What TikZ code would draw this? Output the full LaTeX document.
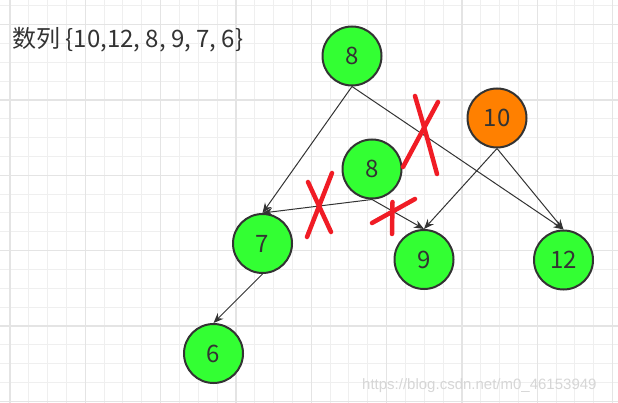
\documentclass[tikz,border=0pt]{standalone}
\usepackage{fontspec}
\setmainfont{Noto Sans CJK SC}
\newfontfamily\markfont{Liberation Sans}
\usetikzlibrary{arrows.meta}
\definecolor{nodegreen}{HTML}{33FF33}
\definecolor{nodeorange}{HTML}{FF8000}
\definecolor{inkgray}{HTML}{333333}
\definecolor{crossred}{HTML}{F01C25}
\definecolor{gridminor}{HTML}{EFEFEF}
\definecolor{gridmajor}{HTML}{E4E4E4}
\definecolor{markgray}{HTML}{D6D6D6}

\tikzset{
  heapnode/.style={circle, draw=inkgray, line width=2pt, minimum size=59pt, inner sep=0pt,
    fill=nodegreen, text=inkgray, font=\fontsize{24}{28}\selectfont},
  link/.style={draw=inkgray, line width=1pt, -{Stealth[length=10pt,width=8pt]}},
  cross/.style={crossred, line width=4.5pt, line cap=round}
}

\begin{document}
\begin{tikzpicture}[x=1pt, y=-1pt]
                    \useasboundingbox (0,0) rectangle (618,403);

                    %grid
                    \foreach \k in {0,...,32}
                        \draw[gridminor, line width=1pt] ({10+18.83*\k},0) -- ({10+18.83*\k},403);
                    \foreach \k in {0,...,21}
                        \draw[gridminor, line width=1pt] (0,{5.8+18.83*\k}) -- (618,{5.8+18.83*\k});
                    \foreach \k in {0,...,8}
                        \draw[gridmajor, line width=1.5pt] ({10+75.33*\k},0) -- ({10+75.33*\k},403);
                    \foreach \k in {0,...,5}
                        \draw[gridmajor, line width=1.5pt] (0,{24.67+75.33*\k}) -- (618,{24.67+75.33*\k});

                    %sequence
                    \node[anchor=base west, inner sep=0pt, text=inkgray, font=\fontsize{24}{28}\selectfont]
                        (seq) at (12,48) {数列 \{10,12, 8, 9, 7, 6\}};

                    %heap nodes
                    \node[heapnode] (top8) at (352,56) {8};
                    \node[heapnode, fill=nodeorange] (ten) at (497,118) {10};
                    \node[heapnode] (mid8) at (372,169) {8};
                    \node[heapnode] (seven) at (262.5,243.5) {7};
                    \node[heapnode] (nine) at (424,259.5) {9};
                    \node[heapnode] (twelve) at (563.5,260) {12};
                    \node[heapnode] (six) at (213.5,353.5) {6};

                    %links
                    \draw[link] (top8.south) -- (seven.north);
                    \draw[link] (top8.south) -- (twelve.north);
                    \draw[link] (ten.south) -- (nine.north);
                    \draw[link] (ten.south) -- (twelve.north);
                    \draw[link] (mid8.south) -- (seven.north);
                    \draw[link] (mid8.south) -- (nine.north);
                    \draw[link] (seven.south) -- (six.north);

                    %crossed out
                    \draw[cross] (415,96) .. controls (425,130) .. (437,174);
                    \draw[cross] (438,102) -- (403,167);
                    \draw[cross] (308,182) -- (331,232);
                    \draw[cross] (332,173) -- (307,237);
                    \draw[cross] (372,223) -- (415,199);
                    \draw[cross] (392.5,202) -- (392,234);

                    %watermark
                    \node[anchor=base west, inner sep=0pt, text=markgray, font=\markfont\fontsize{15}{18}\selectfont]
                        (mark) at (362,389) {https://blog.csdn.net/m0\_46153949};

\end{tikzpicture}
\end{document}
